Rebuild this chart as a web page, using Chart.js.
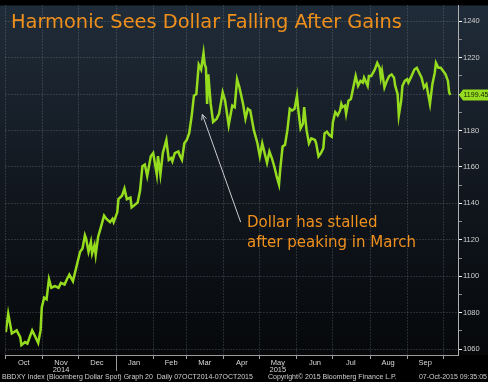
<!DOCTYPE html>
<html>
<head>
<meta charset="utf-8">
<script src="https://cdn.jsdelivr.net/npm/chart.js@4.4.1/dist/chart.umd.min.js"></script>
<style>
html, body { margin: 0; padding: 0; background: #000; }
#wrap { position: relative; width: 488px; height: 382px; overflow: hidden; }
#title { position: absolute; left: 11px; top: 12px; font: 19.4px/20px "DejaVu Sans"; color: #f0901c; white-space: nowrap; }
#note { position: absolute; left: 247px; top: 213px; font: 15px/19.5px "DejaVu Sans"; color: #f0901c; white-space: nowrap; }
.foot { position: absolute; top: 373px; font: 7px/8px "Liberation Sans"; color: #d0d0d0; white-space: nowrap; }
</style>
</head>
<body>
<div id="wrap">
  <canvas id="myChart" width="488" height="382"></canvas>
  <div id="title">Harmonic Sees Dollar Falling After Gains</div>
  <div id="note">Dollar has stalled<br>after peaking in March</div>
  <div class="foot" style="left:2px">BBDXY Index (Bloomberg Dollar Spot) Graph 20&nbsp;&nbsp;Daily 07OCT2014-07OCT2015</div>
  <div class="foot" style="left:268px">Copyright© 2015 Bloomberg Finance L.P.</div>
  <div class="foot" style="right:1px">07-Oct-2015 09:35:05</div>
</div>
<script>
// days counted from 1 Oct 2014
const days = [0, 2, 5, 9, 12, 13, 16, 18, 22, 24, 27, 29, 30, 32, 34, 36, 38, 41, 44, 46, 49, 51, 53, 56, 58,
  60, 62, 64, 66, 67, 69, 71, 72, 74, 75, 77, 79, 82, 84, 87, 89, 90, 93, 94, 97, 99, 101, 104, 105, 107, 110,
  112, 114, 116, 118, 121, 123, 126, 127, 129, 131, 134, 136, 138, 139, 141, 144, 145, 147, 149, 151, 153, 155,
  157, 159, 161, 163, 165, 166, 167, 168, 169, 171, 173, 176, 178, 181, 183, 186, 189, 191, 193, 195, 198, 200,
  202, 204, 207, 210, 212, 214, 216, 218, 220, 222, 224, 226, 228, 229, 231, 233, 235, 237, 239, 241, 243, 244,
  246, 248, 249, 251, 253, 255, 258, 259, 261, 263, 265, 266, 268, 270, 272, 273, 275, 277, 279, 280, 281, 283,
  284, 286, 288, 290, 292, 293, 294, 296, 298, 299, 302, 303, 305, 308, 310, 312, 313, 314, 316, 318, 320, 322,
  324, 325, 327, 328, 330, 331, 333, 335, 336, 338, 341, 343, 345, 347, 349, 351, 352, 354, 356, 358, 359, 361,
  363, 365, 367, 369, 370, 371];
const values = [1069.4, 1079.5, 1068.6, 1070.3, 1066.6, 1062.2, 1063.9, 1063.1, 1070.3, 1067.6, 1063.4, 1070.3,
  1082.9, 1088.3, 1087.4, 1098.4, 1093.7, 1094.6, 1093.7, 1096.4, 1095.5, 1098.4, 1100.9, 1097.3, 1102.7,
  1108.1, 1113.5, 1115.3, 1122.5, 1120.7, 1113.5, 1118.9, 1112.6, 1117.1, 1111.7, 1121.6, 1126.1, 1133.3, 1131.5,
  1129.7, 1131.5, 1129.7, 1135.1, 1142.3, 1144.2, 1148.1, 1142.3, 1143.2, 1137.8, 1138.8, 1140.5,
  1146.9, 1160.4, 1161.3, 1155.0, 1165.8, 1167.6, 1155.8, 1165.9, 1155.8, 1167.6, 1174.8, 1163.9, 1164.9, 1163.1,
  1167.6, 1168.5, 1166.6, 1163.9, 1173.0, 1174.8, 1178.4, 1187.4,
  1199.1, 1200.0, 1216.2, 1213.5, 1222.5, 1216.2, 1214.4, 1194.6, 1210.8, 1194.6, 1184.7, 1186.5, 1189.2, 1200.9,
  1196.4, 1182.9, 1193.7, 1192.8, 1208.1, 1203.6, 1194.6, 1186.5,
  1191.9, 1191.0, 1180.2, 1173.0, 1165.8, 1173.0, 1167.6, 1162.2, 1168.5, 1164.9, 1160.4, 1155.0, 1150.4, 1158.5,
  1171.2, 1172.1, 1180.2, 1191.9, 1191.0, 1191.9, 1199.1, 1191.9,
  1181.1, 1183.8, 1192.8, 1180.2, 1173.0, 1175.7, 1174.8, 1173.0, 1165.8, 1167.6, 1170.3, 1178.4, 1179.3, 1177.5,
  1176.6, 1184.7, 1190.1, 1188.3, 1191.0, 1194.6, 1192.8, 1193.7,
  1189.2, 1196.4, 1197.3, 1203.6, 1209.9, 1207.2, 1204.5, 1207.2, 1206.3, 1209.0, 1204.5, 1209.9, 1209.9, 1213.5,
  1217.1, 1214.4, 1209.0, 1212.6, 1203.6, 1207.2, 1209.9, 1210.8,
  1209.0, 1204.5, 1200.0, 1188.3, 1196.4, 1204.5, 1207.2, 1208.1, 1206.3, 1209.0, 1213.5, 1214.4, 1211.7, 1209.0,
  1203.6, 1205.4, 1201.8, 1194.6, 1205.4, 1211.7, 1217.1, 1214.4,
  1214.4, 1212.6, 1210.8, 1207.2, 1200.9, 1199.45];

const monthStarts = [0, 31, 61, 92, 123, 151, 182, 212, 243, 273, 304, 335, 365];
const monthLabels = ['Oct', ['Nov', '2014'], 'Dec', 'Jan', 'Feb', 'Mar', 'Apr', ['May', '2015'], 'Jun', 'Jul', 'Aug', 'Sep', ''];
const yTicks = [1060, 1070, 1080, 1090, 1100, 1110, 1120, 1130, 1140, 1150, 1160, 1170, 1180, 1190, 1200, 1210, 1220, 1230, 1240];

const lastValue = values[values.length - 1];
const arrowFrom = { x: 196, y: 1129.7 };
const arrowTo = { x: 164, y: 1188.8 };

const lineGreen = '#96dc1e';
const gridCol = 'rgba(150, 160, 170, 0.45)';

const bgPlugin = {
    id: 'bg',
    beforeDraw(chart) {
        const { ctx, chartArea: a } = chart;
        ctx.save();
        ctx.fillStyle = '#000';
        ctx.fillRect(0, 0, chart.width, chart.height);
        const g = ctx.createLinearGradient(0, a.top, 0, a.bottom);
        g.addColorStop(0, '#202c39');
        g.addColorStop(0.5, '#121820');
        g.addColorStop(1, '#06080a');
        ctx.fillStyle = g;
        ctx.fillRect(0, a.top, chart.width, a.bottom - a.top);
        ctx.restore();
    }
};

const extrasPlugin = {
    id: 'extras',
    afterDatasetsDraw(chart) {
        const { ctx, chartArea: a, scales: { x, y } } = chart;
        ctx.save();

        // year break line under Jan
        const xj = Math.round(x.getPixelForValue(92)) + 0.5;
        ctx.strokeStyle = '#9a9a9a';
        ctx.lineWidth = 1;
        ctx.beginPath();
        ctx.moveTo(xj, a.bottom);
        ctx.lineTo(xj, a.bottom + 16);
        ctx.stroke();

        // arrow
        const x1 = x.getPixelForValue(arrowFrom.x), y1 = y.getPixelForValue(arrowFrom.y);
        const x2 = x.getPixelForValue(arrowTo.x), y2 = y.getPixelForValue(arrowTo.y);
        const ang = Math.atan2(y2 - y1, x2 - x1);
        ctx.strokeStyle = '#c8ccd0';
        ctx.lineWidth = 1;
        ctx.beginPath();
        ctx.moveTo(x1, y1);
        ctx.lineTo(x2, y2);
        ctx.moveTo(x2 - 6 * Math.cos(ang - 0.45), y2 - 6 * Math.sin(ang - 0.45));
        ctx.lineTo(x2, y2);
        ctx.lineTo(x2 - 6 * Math.cos(ang + 0.45), y2 - 6 * Math.sin(ang + 0.45));
        ctx.stroke();

        // last value tag
        const ty = y.getPixelForValue(lastValue);
        const tx = a.right + 1;
        ctx.fillStyle = lineGreen;
        ctx.beginPath();
        ctx.moveTo(tx, ty);
        ctx.lineTo(tx + 4, ty - 5.5);
        ctx.lineTo(chart.width, ty - 5.5);
        ctx.lineTo(chart.width, ty + 5.5);
        ctx.lineTo(tx + 4, ty + 5.5);
        ctx.closePath();
        ctx.fill();
        ctx.fillStyle = '#14200a';
        ctx.font = '7px "Liberation Sans"';
        ctx.textBaseline = 'middle';
        ctx.textAlign = 'left';
        ctx.fillText(lastValue.toFixed(2), tx + 4.5, ty + 0.5);
        ctx.restore();
    }
};

const ctx = document.getElementById('myChart').getContext('2d');

const chart = new Chart(ctx, {
    type: 'line',
    data: {
        datasets: [
            {
                label: 'BBDXY',
                data: days.map((d, i) => ({ x: d, y: values[i] })),
                borderColor: lineGreen,
                borderWidth: 2.5,
                pointRadius: 0,
                tension: 0,
                fill: false,
            }
        ]
    },
    options: {
        responsive: false,
        animation: false,
        layout: { padding: 0 },
        plugins: {
            legend: { display: false },
            tooltip: { enabled: false },
        },
        scales: {
            x: {
                type: 'linear',
                min: -0.3,
                max: 377.4,
                afterBuildTicks: (s) => { s.ticks = monthStarts.map(v => ({ value: v })); },
                afterFit: (s) => { s.height = 27; },
                grid: { color: gridCol, tickLength: 4, tickColor: '#a0a0a0' },
                border: { color: '#9a9a9a', dash: [1, 2] },
                ticks: {
                    autoSkip: false,
                    maxRotation: 0,
                    labelOffset: 18,
                    padding: 0,
                    color: '#d8d8d8',
                    font: { family: 'Liberation Sans', size: 7.5, lineHeight: 1.0 },
                    callback: (v, i) => monthLabels[i],
                }
            },
            y: {
                position: 'right',
                min: 1056.8,
                max: 1248.6,
                afterBuildTicks: (s) => { s.ticks = yTicks.map(v => ({ value: v })); },
                afterFit: (s) => { s.width = 30; },
                grid: {
                    color: (c) => (c.tick && c.tick.value % 20 === 0) ? gridCol : 'rgba(0,0,0,0)',
                    tickLength: 4,
                    tickColor: (c) => (c.tick && c.tick.value % 20 === 0) ? '#ffffff' : '#8a8a8a',
                },
                border: { color: '#b0b0b0', dash: [1, 2] },
                ticks: {
                    padding: 1,
                    color: '#d0d0d0',
                    font: { family: 'Liberation Sans', size: 7.5 },
                    callback: (v) => v % 20 === 0 ? v : '',
                }
            }
        }
    },
    plugins: [bgPlugin, extrasPlugin]
});
</script>
</body>
</html>
